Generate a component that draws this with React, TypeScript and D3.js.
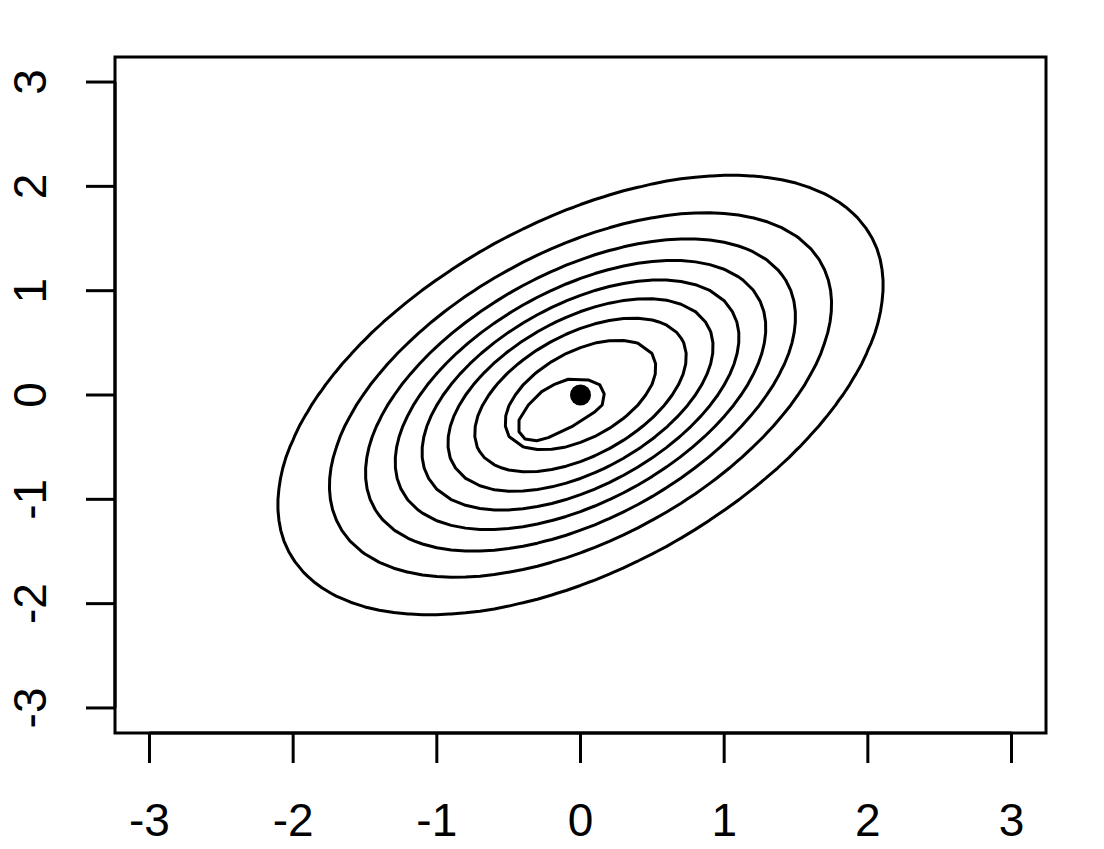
import React, { useEffect, useRef } from 'react';
import * as d3 from 'd3';

// bivariate normal
const mean = [0, 0];
const sd = [1, 1];
const rho = [0.5];
// contour levels (R's pretty levels)
const levels = [0.02, 0.04, 0.06, 0.08, 0.1, 0.12, 0.14, 0.16];
// grid on which the density is evaluated
const gridFrom = -3;
const gridTo = 3;
const gridStep = 0.1;
// innermost (0.18) contour
const peakRingX = [-0.085, 0.054, 0.135, 0.165, 0.151, 0.101, -0.061, -0.224, -0.305, -0.386, -0.428, -0.428, -0.363, -0.27, -0.177];
const peakRingY = [0.151, 0.144, 0.096, 0.01, -0.096, -0.16, -0.304, -0.409, -0.438, -0.422, -0.352, -0.24, -0.096, 0.032, 0.105];
const xTicks = [-3, -2, -1, 0, 1, 2, 3];
const yTicks = [-3, -2, -1, 0, 1, 2, 3];

const W = 1104;
const H = 849;
const LW = 3;

const App = () => {
  const ref = useRef<SVGSVGElement>(null);

  useEffect(() => {
    const svg = d3.select(ref.current);
    svg.selectAll('*').remove();

    const left = 115, right = 1046, top = 57, bottom = 733;
    const x = d3.scaleLinear().domain([-3.24, 3.24]).range([left, right]);
    const y = d3.scaleLinear().domain([-3.24, 3.24]).range([bottom, top]);

    // density grid
    const n = Math.round((gridTo - gridFrom) / gridStep) + 1;
    const r = rho[0];
    const norm = 1 / (2 * Math.PI * sd[0] * sd[1] * Math.sqrt(1 - r * r));
    const values: number[] = new Array(n * n);
    for (let j = 0; j < n; j++) {
      for (let i = 0; i < n; i++) {
        const u = (gridFrom + i * gridStep - mean[0]) / sd[0];
        const v = (gridFrom + j * gridStep - mean[1]) / sd[1];
        const q = (u * u - 2 * r * u * v + v * v) / (1 - r * r);
        values[j * n + i] = norm * Math.exp(-q / 2);
      }
    }

    const contours = d3.contours().size([n, n]).thresholds(levels)(values);
    const proj = d3.geoTransform({
      point(gx: number, gy: number) {
        this.stream.point(
          x(gridFrom + (gx - 0.5) * gridStep),
          y(gridFrom + (gy - 0.5) * gridStep)
        );
      },
    });
    const path = d3.geoPath(proj);

    svg
      .append('g')
      .selectAll('path')
      .data(contours)
      .join('path')
      .attr('d', d => path(d as any))
      .attr('fill', 'none')
      .attr('stroke', 'black')
      .attr('stroke-width', LW)
      .attr('stroke-linejoin', 'round');

    const ring = d3
      .line<number>()
      .x(i => x(peakRingX[i]))
      .y(i => y(peakRingY[i]))
      .curve(d3.curveLinearClosed);
    svg
      .append('path')
      .attr('d', ring(d3.range(peakRingX.length)))
      .attr('fill', 'none')
      .attr('stroke', 'black')
      .attr('stroke-width', LW)
      .attr('stroke-linejoin', 'round');

    // mean point
    svg
      .append('circle')
      .attr('cx', x(mean[0]))
      .attr('cy', y(mean[1]))
      .attr('r', 10.5)
      .attr('fill', 'black');

    // box
    svg
      .append('rect')
      .attr('x', left)
      .attr('y', top)
      .attr('width', right - left)
      .attr('height', bottom - top)
      .attr('fill', 'none')
      .attr('stroke', 'black')
      .attr('stroke-width', LW);

    const font = '"Liberation Sans", Arial, Helvetica, sans-serif';

    // x axis
    const gx = svg.append('g');
    gx.append('line')
      .attr('x1', x(xTicks[0]))
      .attr('x2', x(xTicks[xTicks.length - 1]))
      .attr('y1', bottom)
      .attr('y2', bottom)
      .attr('stroke', 'black')
      .attr('stroke-width', LW);
    gx.selectAll('line.tick')
      .data(xTicks)
      .join('line')
      .attr('class', 'tick')
      .attr('x1', d => x(d))
      .attr('x2', d => x(d))
      .attr('y1', bottom)
      .attr('y2', bottom + 30)
      .attr('stroke', 'black')
      .attr('stroke-width', LW);
    gx.selectAll('text')
      .data(xTicks)
      .join('text')
      .attr('x', d => x(d))
      .attr('y', 836)
      .attr('text-anchor', 'middle')
      .attr('font-family', font)
      .attr('font-size', 46)
      .text(d => String(d));

    // y axis
    const gy = svg.append('g');
    gy.append('line')
      .attr('x1', left)
      .attr('x2', left)
      .attr('y1', y(yTicks[0]))
      .attr('y2', y(yTicks[yTicks.length - 1]))
      .attr('stroke', 'black')
      .attr('stroke-width', LW);
    gy.selectAll('line.tick')
      .data(yTicks)
      .join('line')
      .attr('class', 'tick')
      .attr('x1', left)
      .attr('x2', left - 29)
      .attr('y1', d => y(d))
      .attr('y2', d => y(d))
      .attr('stroke', 'black')
      .attr('stroke-width', LW);
    gy.selectAll('text')
      .data(yTicks)
      .join('text')
      .attr('transform', d => `translate(46,${y(d)}) rotate(-90)`)
      .attr('text-anchor', 'middle')
      .attr('font-family', font)
      .attr('font-size', 46)
      .text(d => String(d));
  }, []);

  return (
    <svg
      ref={ref}
      width={W}
      height={H}
      style={{ position: 'absolute', left: 0, top: 0, background: 'white' }}
    />
  );
};

export default App;
